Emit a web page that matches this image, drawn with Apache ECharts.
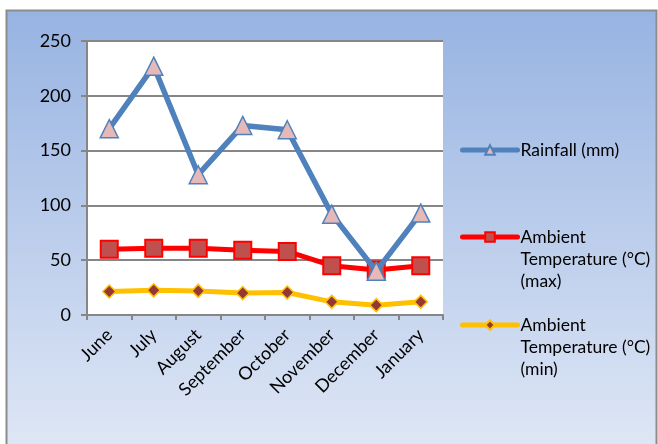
<!DOCTYPE html>
<html>
<head>
<meta charset="utf-8">
<script src="https://cdn.jsdelivr.net/npm/echarts@6/dist/echarts.min.js"></script>
<style>
  html, body { margin: 0; padding: 0; background: #ffffff; }
  #chart { width: 658px; height: 444px; }
</style>
</head>
<body>
<div id="chart"></div>
<script>
// Monthly rainfall and ambient temperature
const months = ['June', 'July', 'August', 'September', 'October', 'November', 'December', 'January'];
const rainfall = [170, 227, 128, 173, 169, 92, 40, 93];
const tempMax = [60, 61, 61, 59, 58, 45, 41, 45];
const tempMin = [21.5, 22.5, 22, 20, 20.5, 12, 9, 12];
const yTicks = [0, 50, 100, 150, 200, 250];

const seriesNames = [
  'Rainfall (mm)',
  'Ambient\nTemperature (°C)\n(max)',
  'Ambient\nTemperature (°C)\n(min)'
];

const FONT = 'Lato';
const FS = 18;
const LEGEND_FS = 17.5;
const LH = 22;

const chart = echarts.init(document.getElementById('chart'), null, { renderer: 'canvas' });

// One legend block per series; multi-line names get two leading blank
// lines so the marker sits beside the first line of text.
function legendAt(name, top) {
  return {
    data: [name],
    left: 460,
    top: top,
    orient: 'vertical',
    itemWidth: 55,
    itemHeight: 12,
    itemGap: 0,
    padding: 0,
    selectedMode: false,
    formatter: n => (n.indexOf('\n') >= 0 ? '\n\n' + n : n),
    lineStyle: { width: 5, cap: 'round' },
    textStyle: {
      fontFamily: FONT,
      fontSize: LEGEND_FS,
      color: '#000000',
      lineHeight: LH,
      padding: [0, 0, 0, -2]
    }
  };
}

chart.setOption({
  animation: false,
  graphic: [{
    type: 'rect',
    shape: { x: 6.5, y: 10.5, width: 650, height: 440 },
    style: {
      fill: new echarts.graphic.LinearGradient(0, 0, 0, 1, [
        { offset: 0, color: '#97b3e2' },
        { offset: 1, color: '#dfe7f5' }
      ]),
      stroke: '#8c8c8c',
      lineWidth: 2
    },
    z: -10
  }],
  grid: {
    left: 87,
    top: 41,
    width: 356,
    height: 274,
    show: true,
    backgroundColor: '#ffffff',
    borderWidth: 0
  },
  legend: [
    legendAt(seriesNames[0], 139),
    legendAt(seriesNames[1], 182),
    legendAt(seriesNames[2], 270)
  ],
  xAxis: {
    type: 'category',
    data: months,
    boundaryGap: true,
    axisLine: { show: true, lineStyle: { color: '#868686', width: 2 } },
    axisTick: { show: true, length: 5, lineStyle: { color: '#868686', width: 2 } },
    axisLabel: {
      rotate: 45,
      fontFamily: FONT,
      fontSize: FS,
      color: '#000000',
      margin: 17
    },
    splitLine: { show: false }
  },
  yAxis: {
    type: 'value',
    min: 0,
    max: 250,
    interval: 50,
    axisLine: { show: true, lineStyle: { color: '#868686', width: 2 } },
    axisTick: { show: true, length: 6, lineStyle: { color: '#868686', width: 2 } },
    axisLabel: {
      fontFamily: FONT,
      fontSize: FS,
      color: '#000000',
      margin: 16,
      formatter: v => yTicks.indexOf(v) >= 0 ? String(v) : ''
    },
    splitLine: { show: true, lineStyle: { color: '#868686', width: 2 } }
  },
  series: [
    {
      name: seriesNames[0],
      type: 'line',
      data: rainfall,
      z: 5,
      symbol: 'triangle',
      symbolSize: 18,
      lineStyle: { color: '#4f81bd', width: 5.5 },
      itemStyle: { color: '#e6b9b8', borderColor: '#4f81bd', borderWidth: 1.5 }
    },
    {
      name: seriesNames[1],
      type: 'line',
      data: tempMax,
      z: 4,
      symbol: 'rect',
      symbolSize: 17,
      lineStyle: { color: '#ff0000', width: 5 },
      itemStyle: { color: '#c0504d', borderColor: '#ff0000', borderWidth: 2 }
    },
    {
      name: seriesNames[2],
      type: 'line',
      data: tempMin,
      z: 3,
      symbol: 'diamond',
      symbolSize: 13,
      lineStyle: { color: '#ffc000', width: 5 },
      itemStyle: { color: '#953735', borderColor: '#ffc000', borderWidth: 1.5 }
    }
  ]
});
</script>
</body>
</html>
